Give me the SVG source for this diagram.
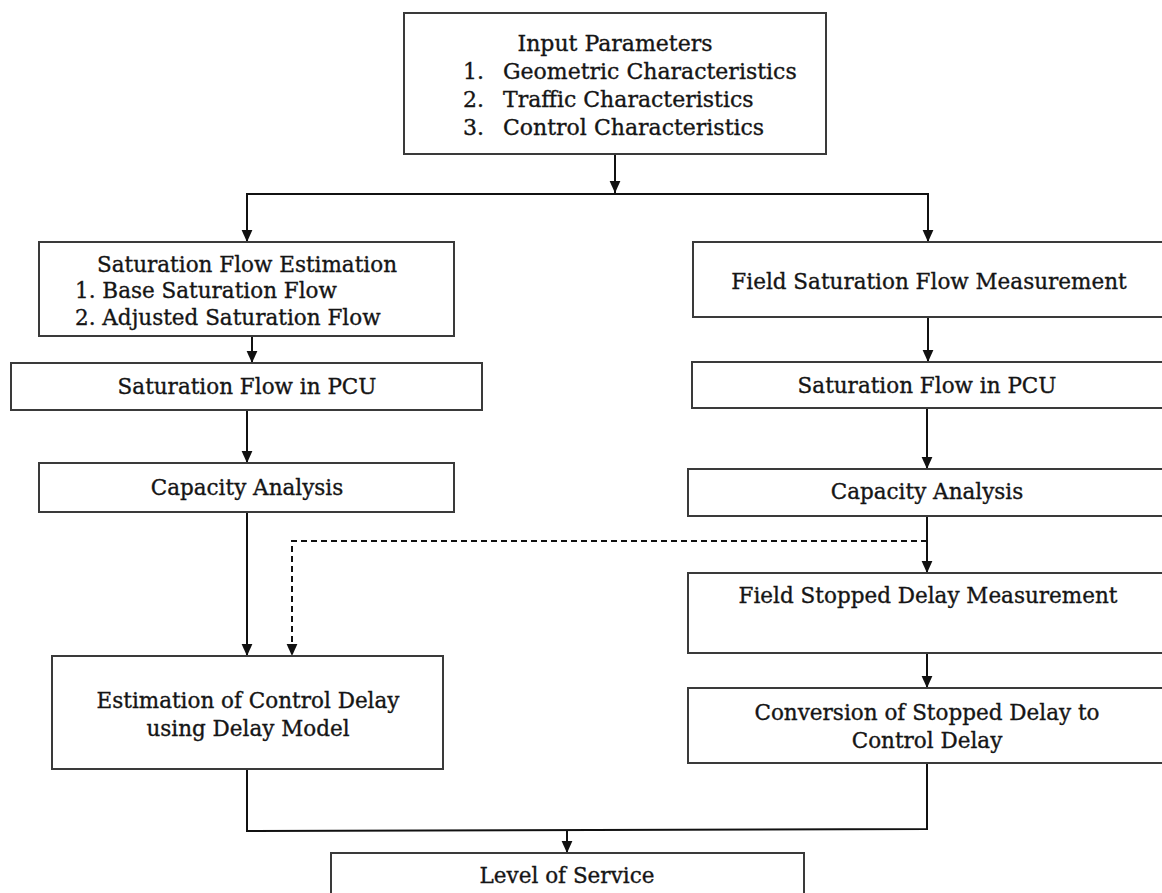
<svg xmlns="http://www.w3.org/2000/svg" width="1162" height="893" viewBox="0 0 1162 893">
<style>
.box{fill:#fff;stroke:#3a3a3a;stroke-width:2}
.t{font-family:"DejaVu Serif","Liberation Serif",serif;font-size:21.5px;fill:#151515;stroke:#151515;stroke-width:0.35}
.c{text-anchor:middle}
.ln{fill:none;stroke:#111;stroke-width:2}
.dash{fill:none;stroke:#111;stroke-width:2;stroke-dasharray:6 4}
</style>
<defs>
<marker id="ah" viewBox="0 0 10 10" refX="10" refY="5" markerWidth="12" markerHeight="13" markerUnits="userSpaceOnUse" orient="auto">
<path d="M0,0.5 L10,5 L0,9.5 z" fill="#111"/>
</marker>
</defs>
<rect width="1162" height="893" fill="#fff"/>
<g id="connectors">
<line class="ln" x1="615" y1="154" x2="615" y2="193" marker-end="url(#ah)"/>
<polyline class="ln" points="247,242 247,194 928,194 928,242"/>
<line class="ln" x1="247" y1="200" x2="247" y2="242" marker-end="url(#ah)"/>
<line class="ln" x1="928" y1="200" x2="928" y2="242" marker-end="url(#ah)"/>
<line class="ln" x1="252" y1="336" x2="252" y2="363" marker-end="url(#ah)"/>
<line class="ln" x1="247" y1="410" x2="247" y2="463" marker-end="url(#ah)"/>
<line class="ln" x1="247" y1="512" x2="247" y2="656" marker-end="url(#ah)"/>
<line class="ln" x1="928" y1="317" x2="928" y2="362" marker-end="url(#ah)"/>
<line class="ln" x1="927" y1="408" x2="927" y2="469" marker-end="url(#ah)"/>
<line class="ln" x1="927" y1="516" x2="927" y2="573" marker-end="url(#ah)"/>
<line class="ln" x1="927" y1="653" x2="927" y2="688" marker-end="url(#ah)"/>
<polyline class="dash" points="927,541 292,541 292,656" marker-end="url(#ah)"/>
<polyline class="ln" points="247,769 247,831 927,829 927,763"/>
<line class="ln" x1="567" y1="830" x2="567" y2="853" marker-end="url(#ah)"/>
</g>
<g id="input">
<rect class="box" x="404" y="13" width="422" height="141"/>
<text class="t c" x="615" y="51" style="font-size:22px">Input Parameters</text>
<text class="t" x="463" y="79" style="font-size:22px">1.</text>
<text class="t" x="503" y="79" style="font-size:22px">Geometric Characteristics</text>
<text class="t" x="463" y="107" style="font-size:22px">2.</text>
<text class="t" x="503" y="107" style="font-size:22px">Traffic Characteristics</text>
<text class="t" x="463" y="135" style="font-size:22px">3.</text>
<text class="t" x="503" y="135" style="font-size:22px">Control Characteristics</text>
</g>
<g id="sat-est">
<rect class="box" x="39" y="242" width="415" height="94"/>
<text class="t c" x="247" y="272">Saturation Flow Estimation</text>
<text class="t" x="75" y="298">1. Base Saturation Flow</text>
<text class="t" x="75" y="325">2. Adjusted Saturation Flow</text>
</g>
<g id="sat-pcu-left">
<rect class="box" x="11" y="363" width="471" height="47"/>
<text class="t c" x="247" y="394">Saturation Flow in PCU</text>
</g>
<g id="capacity-left">
<rect class="box" x="39" y="463" width="415" height="49"/>
<text class="t c" x="247" y="495">Capacity Analysis</text>
</g>
<g id="estimation">
<rect class="box" x="52" y="656" width="391" height="113"/>
<text class="t c" x="248" y="708">Estimation of Control Delay</text>
<text class="t c" x="248" y="736">using Delay Model</text>
</g>
<g id="field-sat">
<rect class="box" x="693" y="242" width="475" height="75"/>
<text class="t c" x="929" y="289">Field Saturation Flow Measurement</text>
</g>
<g id="sat-pcu-right">
<rect class="box" x="692" y="362" width="476" height="46"/>
<text class="t c" x="927" y="393">Saturation Flow in PCU</text>
</g>
<g id="capacity-right">
<rect class="box" x="688" y="469" width="480" height="47"/>
<text class="t c" x="927" y="499">Capacity Analysis</text>
</g>
<g id="field-stopped">
<rect class="box" x="688" y="573" width="480" height="80"/>
<text class="t c" x="928" y="603">Field Stopped Delay Measurement</text>
</g>
<g id="conversion">
<rect class="box" x="688" y="688" width="480" height="75"/>
<text class="t c" x="927" y="720">Conversion of Stopped Delay to</text>
<text class="t c" x="927" y="748">Control Delay</text>
</g>
<g id="los">
<rect class="box" x="331" y="853" width="473" height="60"/>
<text class="t c" x="567" y="883">Level of Service</text>
</g>
</svg>
